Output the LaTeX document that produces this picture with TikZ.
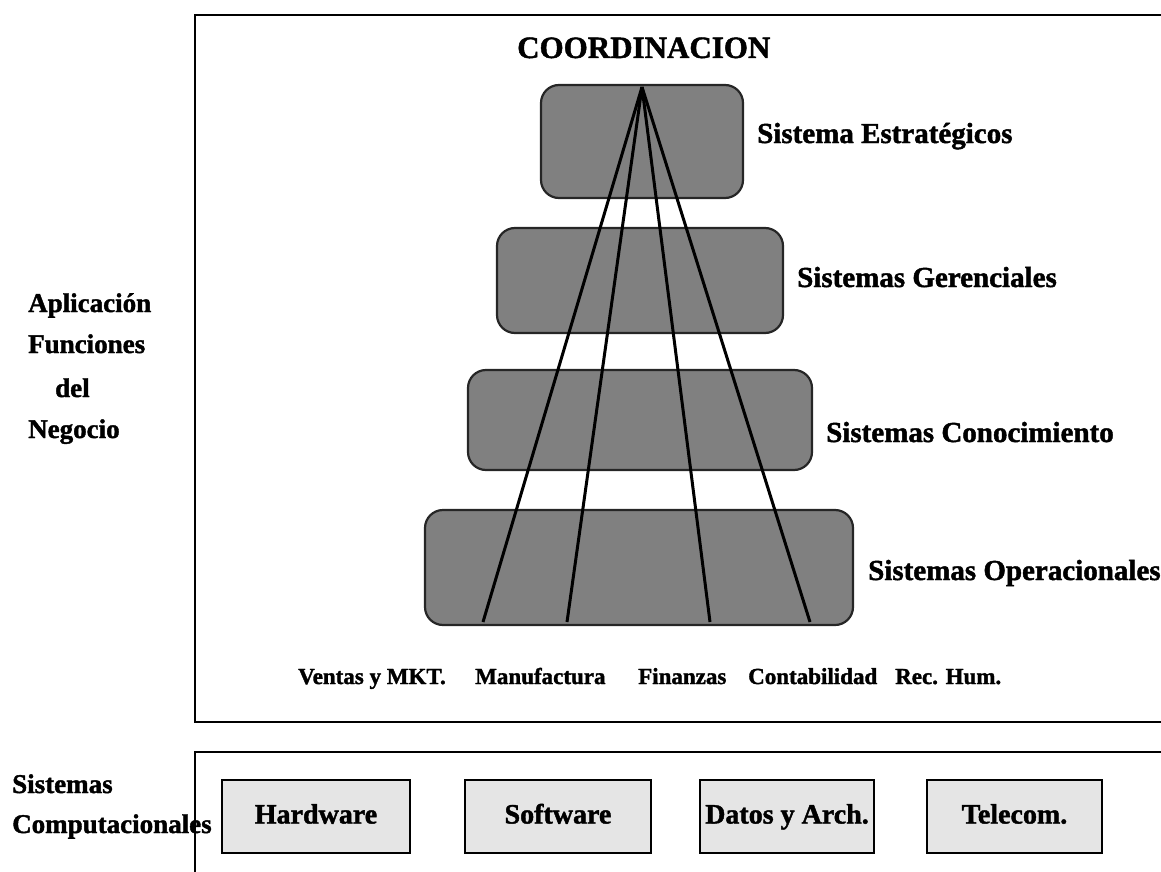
\documentclass[tikz,border=0pt]{standalone}
\usepackage{fontspec}
\setmainfont{Liberation Serif}[BoldFeatures={FakeBold=1.5}]
\begin{document}
\begin{tikzpicture}[x=1pt,y=-1pt,
  layer/.style={draw=black!85, line width=2.2pt, fill=black!50, rounded corners=18pt, inner sep=0pt},
  tool/.style={draw=black, line width=2.5pt, fill=black!10, inner sep=0pt, minimum height=73pt,
    text height=20pt, text depth=6pt, font=\bfseries\fontsize{28}{30}\selectfont},
  frame/.style={line width=2.4pt},
  ray/.style={line width=3pt},
  lbl/.style={anchor=base west, inner sep=0pt, font=\bfseries\fontsize{29}{32}\selectfont},
  side/.style={anchor=base west, inner sep=0pt, font=\bfseries\fontsize{27}{30}\selectfont},
  area/.style={anchor=base west, inner sep=0pt, font=\bfseries\fontsize{23}{26}\selectfont},
  title/.style={anchor=base west, inner sep=0pt, font=\bfseries\fontsize{31}{34}\selectfont}]
\useasboundingbox (0,0) rectangle (1161,872);
\clip (0,0) rectangle (1161,872);

% outer frames
\draw[frame] (1170,15) -- (195,15) -- (195,722) -- (1170,722);
\draw[frame] (1170,752) -- (195,752) -- (195,880);

% title
\node[title] (coord) at (517,58) {COORDINACION};

% pyramid of system levels
\node[layer, minimum width=202pt, minimum height=113pt] (estr) at (642,141.5) {};
\node[layer, minimum width=286pt, minimum height=105pt] (ger) at (640,280.5) {};
\node[layer, minimum width=344pt, minimum height=100pt] (con) at (640,420) {};
\node[layer, minimum width=428pt, minimum height=115pt] (ope) at (639,567.5) {};

% rays from the apex to the functional areas
\coordinate (apex) at (642,87);
\coordinate (f1) at (483,622);
\coordinate (f2) at (567,622);
\coordinate (f3) at (710,622);
\coordinate (f4) at (810,622);
\foreach \f in {f1,f2,f3,f4} \draw[ray] (apex) -- (\f);

% level labels
\node[lbl] (lestr) at (757,143) {Sistema Estratégicos};
\node[lbl] (lger) at (797,287) {Sistemas Gerenciales};
\node[lbl] (lcon) at (826,442) {Sistemas Conocimiento};
\node[lbl] (lope) at (868,580) {Sistemas Operacionales};

% functional areas
\node[area] (a1) at (298,684) {Ventas y MKT.};
\node[area] (a2) at (475,684) {Manufactura};
\node[area] (a3) at (638,684) {Finanzas};
\node[area] (a4) at (748,684) {Contabilidad};
\node[area] (a5) at (895,684) {Rec. Hum.};

% side captions
\node[side] (s1) at (28,312) {Aplicación};
\node[side] (s2) at (28,353) {Funciones};
\node[side] (s3) at (55,397) {del};
\node[side] (s4) at (28,438) {Negocio};
\node[side] (c1) at (12,793) {Sistemas};
\node[side] (c2) at (12,833) {Computacionales};

% computing resources
\node[tool, minimum width=188pt] (hw) at (316,816.5) {Hardware};
\node[tool, minimum width=186pt] (sw) at (558,816.5) {Software};
\node[tool, minimum width=174pt] (da) at (787,816.5) {Datos y Arch.};
\node[tool, minimum width=175pt] (tc) at (1014.5,816.5) {Telecom.};
\end{tikzpicture}
\end{document}
